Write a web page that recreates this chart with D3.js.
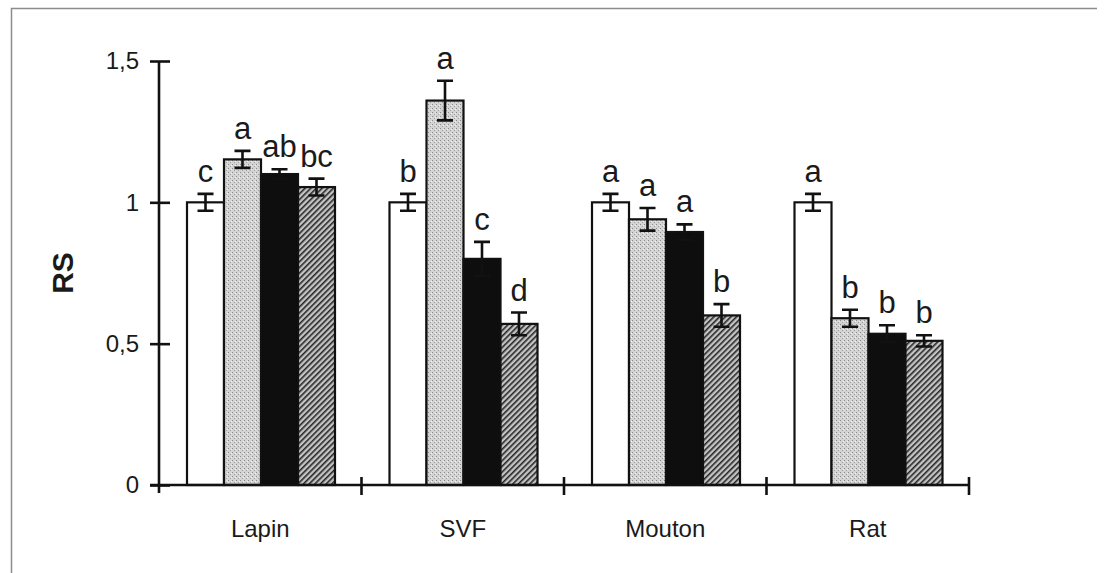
<!DOCTYPE html>
<html>
<head>
<meta charset="utf-8">
<script src="https://cdn.jsdelivr.net/npm/d3@7"></script>
<style>
  body { margin: 0; background: #fff; }
  svg { display: block; font-family: "Liberation Sans", Arial, sans-serif; }
</style>
</head>
<body>
<div id="chart"></div>
<script>
const categories = ["Lapin", "SVF", "Mouton", "Rat"];
const series = ["s1", "s2", "s3", "s4"];
const values = [
    [1.00, 1.152, 1.10, 1.054],
    [1.00, 1.36, 0.80, 0.57],
    [1.00, 0.94, 0.895, 0.60],
    [1.00, 0.59, 0.535, 0.51]
];
const errors = [
    [0.03, 0.03, 0.017, 0.03],
    [0.03, 0.07, 0.06, 0.04],
    [0.03, 0.04, 0.027, 0.04],
    [0.03, 0.03, 0.03, 0.02]
];
const letters = [
    ["c", "a", "ab", "bc"],
    ["b", "a", "c", "d"],
    ["a", "a", "a", "b"],
    ["a", "b", "b", "b"]
];
const yTicks = [0, 0.5, 1, 1.5];

const width = 1105,
    height = 573,
    margin = ({ top: 61, right: 136, bottom: 88, left: 159 });

const svg = d3.select("#chart")
    .append("svg")
    .attr("width", width)
    .attr("height", height)
    .attr("viewBox", [0, 0, width, height]);

// fills
const defs = svg.append("defs");

const dots = defs.append("pattern")
    .attr("id", "dots")
    .attr("patternUnits", "userSpaceOnUse")
    .attr("width", 4).attr("height", 4);
dots.append("rect").attr("width", 4).attr("height", 4).attr("fill", "#d4d4d4");
dots.append("rect").attr("x", 0).attr("y", 0).attr("width", 1).attr("height", 1).attr("fill", "#8a8a8a");
dots.append("rect").attr("x", 2).attr("y", 2).attr("width", 1).attr("height", 1).attr("fill", "#a0a0a0");
dots.append("rect").attr("x", 3).attr("y", 1).attr("width", 1).attr("height", 1).attr("fill", "#f2f2f2");

const hatch = defs.append("pattern")
    .attr("id", "hatch")
    .attr("patternUnits", "userSpaceOnUse")
    .attr("width", 4).attr("height", 4)
    .attr("patternTransform", "rotate(45)");
hatch.append("rect").attr("width", 4).attr("height", 4).attr("fill", "#c4c4c4");
hatch.append("line").attr("x1", 0).attr("y1", 0).attr("x2", 0).attr("y2", 4)
    .attr("stroke", "#262626").attr("stroke-width", 3.2);

const fills = ["#ffffff", "url(#dots)", "#0e0e0e", "url(#hatch)"];

// frame (scan border)
svg.append("path")
    .attr("d", "M11.5,573V8.5H1097")
    .attr("fill", "none")
    .attr("stroke", "#8c8c8c")
    .attr("stroke-width", 1.5);

const x = d3.scaleBand()
    .domain(categories)
    .range([margin.left, width - margin.right]);

const x1 = d3.scaleBand()
    .domain(series)
    .range([28, x.bandwidth() - 26.5]);

const y = d3.scaleLinear()
    .domain([0, 1.5])
    .range([height - margin.bottom, margin.top]);

const data = categories.flatMap((c, i) => series.map((s, j) => ({
    cat: c, s: s, j: j,
    value: values[i][j],
    err: errors[i][j],
    letter: letters[i][j]
})));

// bars
const bar = svg.selectAll(".bar")
    .data(data)
    .join("g")
    .attr("class", "bar");

bar.append("rect")
    .attr("x", d => x(d.cat) + x1(d.s))
    .attr("width", x1.bandwidth())
    .attr("y", d => y(d.value))
    .attr("height", d => y(0) - y(d.value))
    .attr("fill", d => fills[d.j])
    .attr("stroke", "#111")
    .attr("stroke-width", 2.2);

// error bars
const ex = d => x(d.cat) + x1(d.s) + x1.bandwidth() / 2;
bar.append("path")
    .attr("d", d => {
        const c = ex(d), t = y(d.value + d.err), b = y(d.value - d.err);
        return `M${c - 8},${t}H${c + 8}M${c},${t}V${b}M${c - 8},${b}H${c + 8}`;
    })
    .attr("fill", "none")
    .attr("stroke", "#111")
    .attr("stroke-width", 2.6);

// significance letters
bar.append("text")
    .text(d => d.letter)
    .attr("x", ex)
    .attr("y", d => y(d.value + d.err) - 12)
    .attr("text-anchor", "middle")
    .attr("font-size", 31)
    .attr("fill", "#1a1a1a");

// y axis
const yAxis = svg.append("g")
    .attr("transform", `translate(${margin.left},0)`)
    .call(d3.axisLeft(y)
        .tickValues(yTicks)
        .tickFormat(d => String(d).replace(".", ","))
        .tickSize(10)
        .tickPadding(10));
yAxis.select(".domain")
    .attr("d", `M0,${y(1.5)}V${y(0) + 8}`)
    .attr("stroke", "#111")
    .attr("stroke-width", 2.6);
yAxis.selectAll(".tick line")
    .attr("x1", -9).attr("x2", 11)
    .attr("stroke", "#111")
    .attr("stroke-width", 2.6);
yAxis.selectAll(".tick text")
    .attr("font-size", 24)
    .attr("fill", "#1a1a1a")
    .attr("font-family", "Liberation Sans, Arial, sans-serif");

// x axis
const xAxis = svg.append("g")
    .attr("transform", `translate(0,${y(0)})`)
    .call(d3.axisBottom(x).tickSize(0).tickPadding(35));
xAxis.select(".domain")
    .attr("d", `M${margin.left - 9},0H${width - margin.right}`)
    .attr("stroke", "#111")
    .attr("stroke-width", 2.6);
xAxis.selectAll(".tick text")
    .attr("font-size", 24)
    .attr("fill", "#1a1a1a")
    .attr("font-family", "Liberation Sans, Arial, sans-serif");

xAxis.selectAll(".sep")
    .data(categories)
    .join("line")
    .attr("class", "sep")
    .attr("x1", d => x(d) + x.bandwidth())
    .attr("x2", d => x(d) + x.bandwidth())
    .attr("y1", -8)
    .attr("y2", 10)
    .attr("stroke", "#111")
    .attr("stroke-width", 2.6);

// axis title
svg.append("text")
    .attr("transform", `translate(${margin.left - 86},${(y(0) + y(1.5)) / 2}) rotate(-90)`)
    .attr("text-anchor", "middle")
    .attr("font-size", 30)
    .attr("font-weight", "bold")
    .attr("fill", "#1a1a1a")
    .text("RS");
</script>
</body>
</html>
